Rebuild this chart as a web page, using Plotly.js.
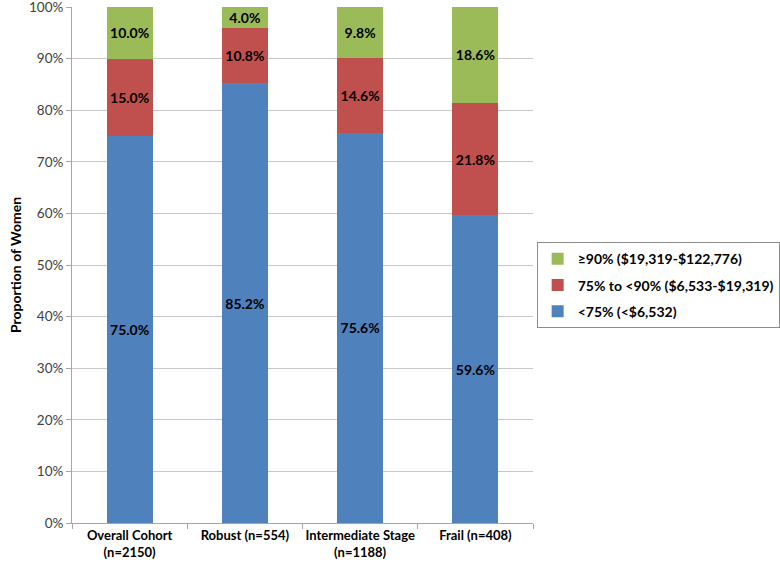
<!DOCTYPE html>
<html>
<head>
<meta charset="utf-8">
<script src="https://cdn.plot.ly/plotly-3.0.1.min.js"></script>
<style>html,body{margin:0;padding:0;background:#fff;}#chart{width:780px;height:566px;}</style>
</head>
<body>
<div id="chart"></div>
<script>
const categories = ["Overall Cohort<br>(n=2150)", "Robust (n=554)", "Intermediate Stage<br>(n=1188)", "Frail (n=408)"];
const below75 = [75.0, 85.2, 75.6, 59.6];
const from75to90 = [15.0, 10.8, 14.6, 21.8];
const above90 = [10.0, 4.0, 9.8, 18.6];
const seriesNames = ["<75% (<$6,532)", "75% to <90% ($6,533-$19,319)", "≥90% ($19,319-$122,776)"];
const seriesColors = ["#4F81BD", "#C0504D", "#9BBB59"];
const yTicks = [0,10,20,30,40,50,60,70,80,90,100];

const FONT = "Lato, 'Open Sans', sans-serif";
function mk(vals, i) {
  return {
    type: "bar", x: categories, y: vals, name: seriesNames[i],
    legendgroup: "g" + i, legendrank: 3 - i,
    marker: {color: seriesColors[i]},
    text: vals.map(v => v.toFixed(1) + "%"),
    textposition: "inside", insidetextanchor: "middle",
    textangle: 0, constraintext: "none",
    textfont: {family: FONT, size: 14, color: "#000", weight: "bold"},
    hoverinfo: "skip", cliponaxis: false
  };
}
const data = [mk(below75, 0), mk(from75to90, 1), mk(above90, 2)];
const layout = {
  width: 780, height: 566,
  margin: {l: 72, r: 247, t: 7, b: 43},
  barmode: "stack", bargap: 0.6,
  paper_bgcolor: "#fff", plot_bgcolor: "#fff",
  font: {family: FONT, size: 14, color: "#000"},
  showlegend: true,
  legend: {
    xref: "container", yref: "container",
    x: 0.688, xanchor: "left", y: 0.572, yanchor: "top",
    traceorder: "grouped", tracegroupgap: 5,
    bordercolor: "#8c8c8c", borderwidth: 1, bgcolor: "#fff",
    font: {family: FONT, size: 14, color: "#000", weight: "bold"},
    itemwidth: 30
  },
  xaxis: {
    type: "category", automargin: false, tickangle: 0,
    showline: true, linecolor: "#a6a6a6", linewidth: 1,
    ticks: "outside", tickson: "boundaries", ticklen: 5, tickcolor: "#a6a6a6",
    tickfont: {family: FONT, size: 13, color: "#000", weight: "bold"},
    showgrid: false, fixedrange: true
  },
  yaxis: {
    range: [0, 100], automargin: false, ticklabeloverflow: "allow",
    tickvals: yTicks, ticktext: yTicks.map(v => v + "%"),
    showline: true, linecolor: "#a6a6a6", linewidth: 1,
    ticks: "outside", ticklen: 5, tickcolor: "#a6a6a6",
    tickfont: {family: FONT, size: 13.5, color: "#404040"},
    showgrid: true, gridcolor: "#c8c8c8", gridwidth: 1,
    zeroline: false,
    title: {text: "Proportion of Women", font: {family: FONT, size: 14, color: "#000", weight: "bold"}, standoff: 4}
  }
};
Plotly.newPlot("chart", data, layout, {displayModeBar: false, staticPlot: true});
</script>
</body>
</html>
